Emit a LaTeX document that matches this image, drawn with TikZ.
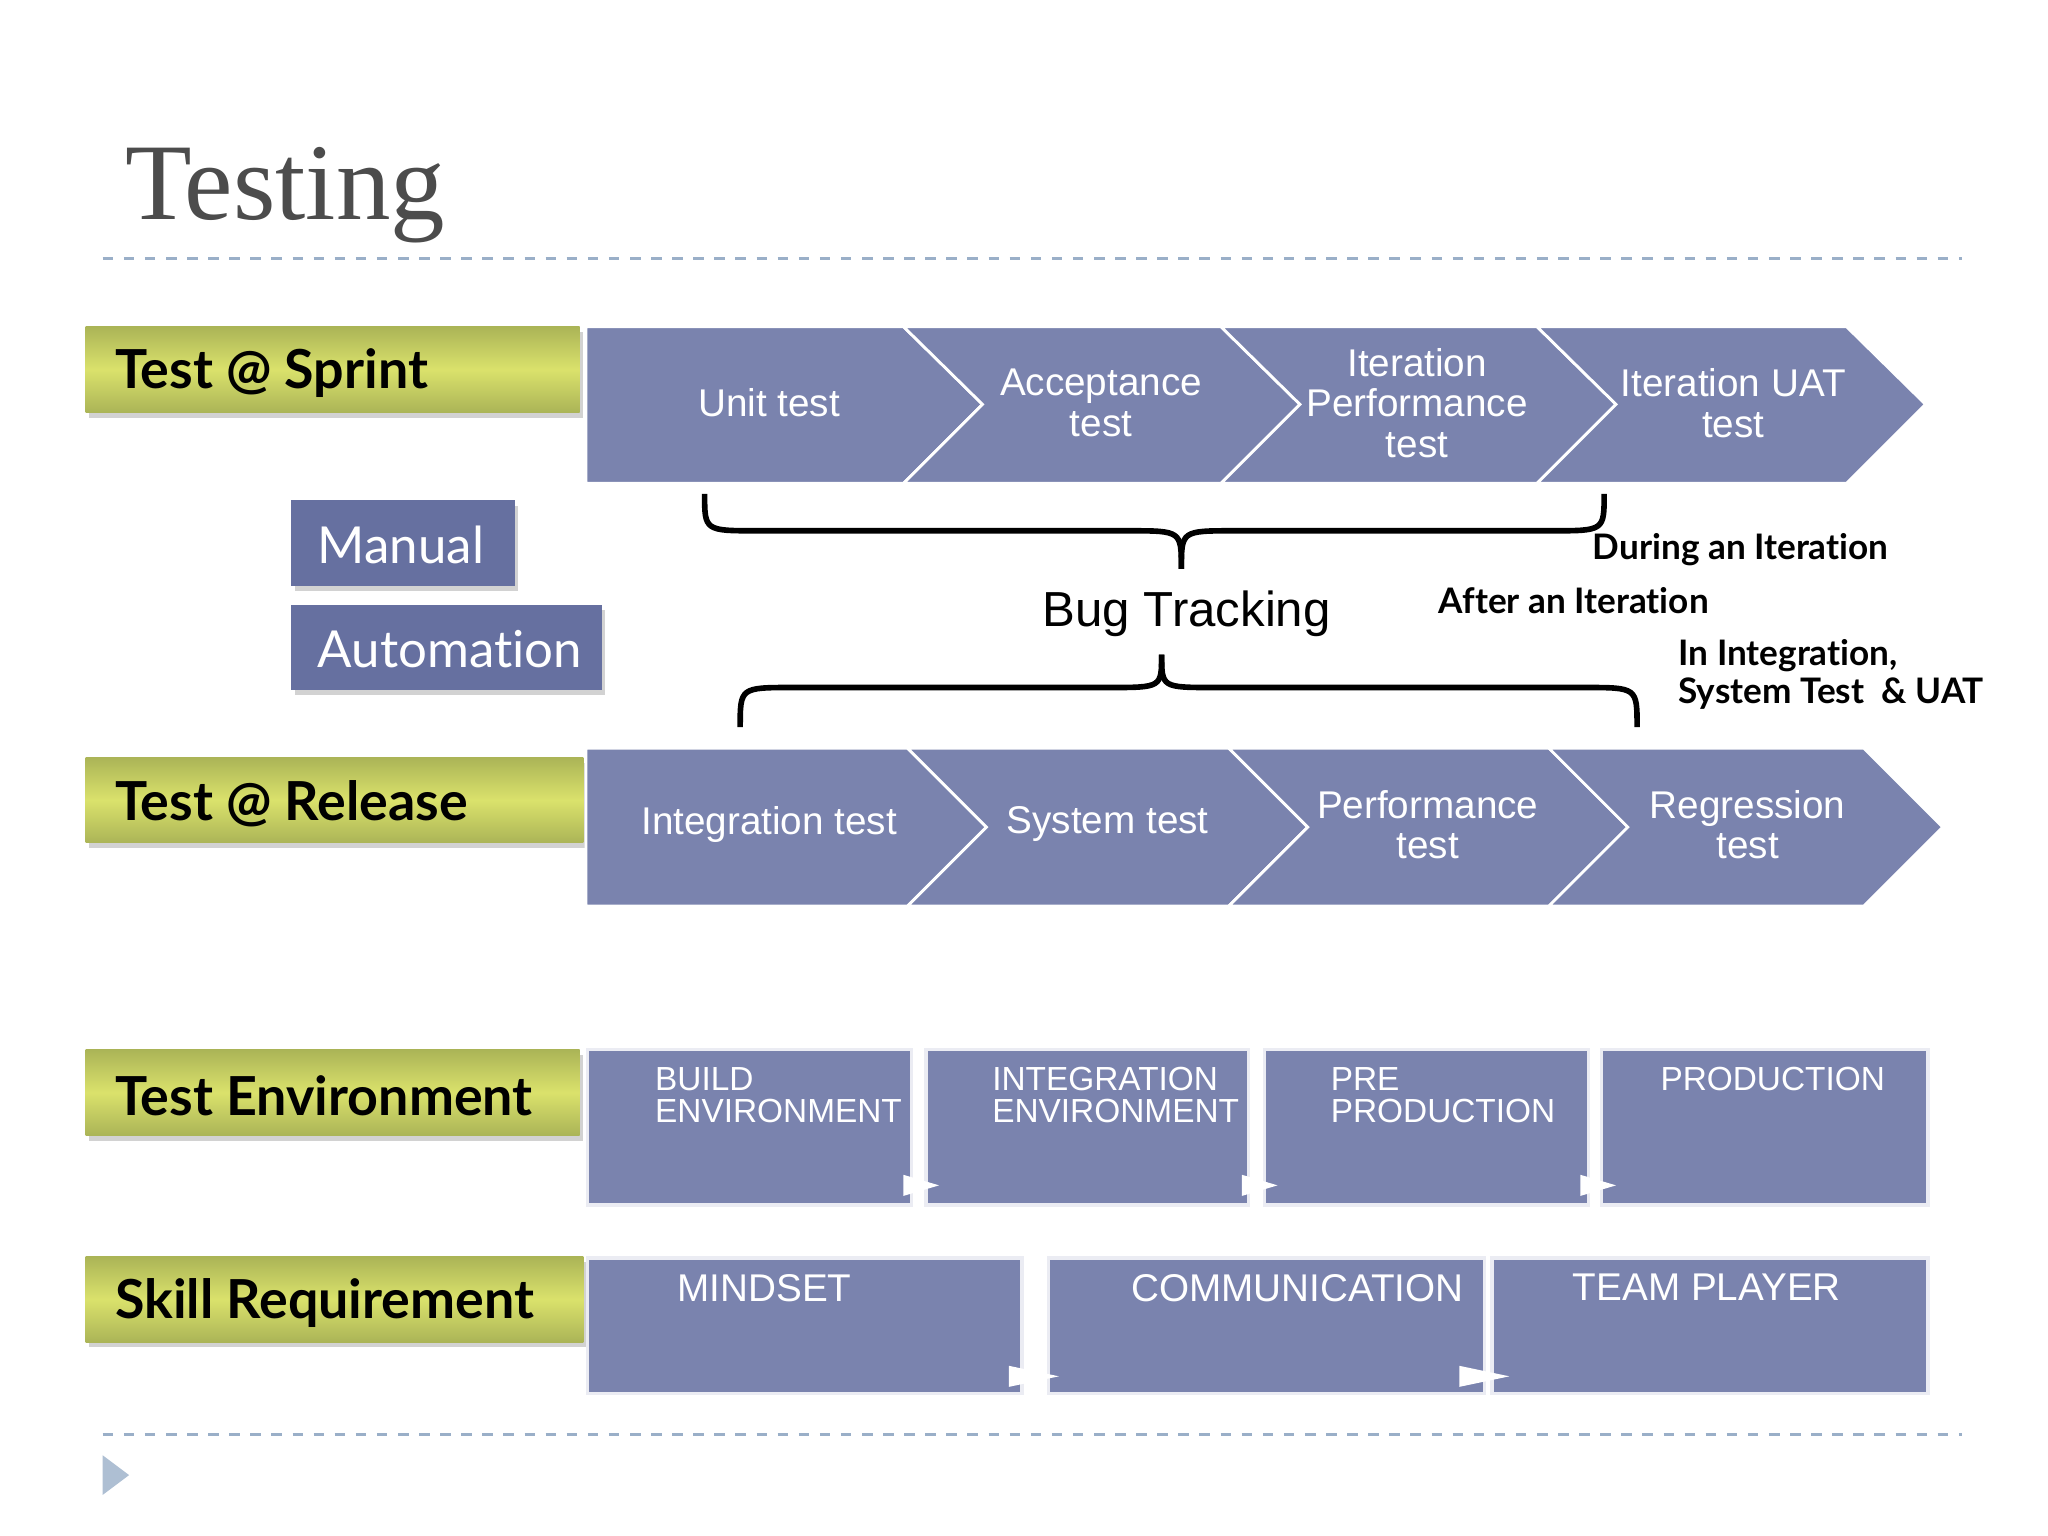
\documentclass[tikz,border=0pt]{standalone}
\usepackage{fontspec}
\setmainfont{Liberation Sans}
\newfontfamily\lato[Ligatures={NoCommon,NoDiscretionary,NoRare}]{Lato}
\newfontfamily\serifm{Liberation Serif}
\usetikzlibrary{shadows}
\definecolor{chev}{HTML}{7A83AE}
\definecolor{lab}{HTML}{C9D466}
\definecolor{blu}{HTML}{6670A0}
\definecolor{dashc}{HTML}{9AAFC8}
\tikzset{
  x=0.01317cm,y=-0.01317cm,
  green/.style={draw=none,top color=lab!85!black,bottom color=lab!85!black,middle color=lab!80!yellow!85!white,drop shadow={shadow xshift=1pt,shadow yshift=-1.5pt,opacity=0.35}},
  gtext/.style={font=\lato\bfseries\fontsize{15.3}{16}\selectfont,anchor=west},
  chv/.style={fill=chev,draw=white,line width=0.8pt},
  ctext/.style={text=white,font=\fontsize{11}{11.5}\selectfont,align=center},
  box/.style={fill=chev,draw=white!85!chev,line width=1pt},
  btext/.style={text=white,font=\fontsize{9.5}{9}\selectfont,align=left,anchor=north west},
  wtri/.style={fill=white},
  brace/.style={line width=1.6pt},
  note/.style={font=\lato\bfseries\fontsize{10}{11}\selectfont,anchor=west,align=left}
}
\begin{document}
\begin{tikzpicture}
\useasboundingbox[fill=white] (0,0) rectangle (1555,1166);
\node[anchor=west,text=black!70,font=\serifm\fontsize{31}{31}\selectfont] (title) at (86,148) {Testing};
\draw[dashc,dashed,line width=0.8pt] (78,196) -- (1490,196);
\draw[dashc,dashed,line width=0.8pt] (78,1089) -- (1490,1089);
\fill[dashc!80!white] (78,1105) -- (98,1120) -- (78,1135) -- cycle;
% green labels
\path[green] (65,248) rectangle (440,313);
\node[gtext] (l1) at (78,283) {Test @ Sprint};
\path[green] (65,575) rectangle (443,640);
\node[gtext] (l2) at (78,610) {Test @ Release};
\path[green] (65,797) rectangle (440,862);
\node[gtext] (l3) at (78,832) {Test Environment};
\path[green] (65,954) rectangle (443,1019);
\node[gtext] (l4) at (78,989) {Skill Requirement};
% manual / automation
\path[fill=blu,drop shadow={shadow xshift=1pt,shadow yshift=-1.5pt,opacity=0.35}] (221,380) rectangle (391,445);
\node[anchor=west,text=white,font=\lato\fontsize{14.5}{15}\selectfont] (man) at (232,414) {Manual};
\path[fill=blu,drop shadow={shadow xshift=1pt,shadow yshift=-1.5pt,opacity=0.35}] (221,459) rectangle (457,524);
\node[anchor=west,text=white,font=\lato\fontsize{14.5}{15}\selectfont] (aut) at (232,493) {Automation};
% row 1 chevrons
\draw[chv] (445,248) -- (686,248) -- (746,307) -- (686,367) -- (445,367) -- cycle;
\draw[chv] (686,248) -- (927,248) -- (987,307) -- (927,367) -- (686,367) -- (746,307) -- cycle;
\draw[chv] (927,248) -- (1167,248) -- (1227,307) -- (1167,367) -- (927,367) -- (987,307) -- cycle;
\draw[chv] (1167,248) -- (1402,248) -- (1462,307) -- (1402,367) -- (1167,367) -- (1227,307) -- cycle;
\node[ctext] (c1) at (584,306) {Unit test};
\node[ctext] (c2) at (836,306) {Acceptance\\test};
\node[ctext] (c3) at (1076,306) {Iteration\\Performance\\test};
\node[ctext] (c4) at (1316,306) {Iteration UAT\\test};
% row 2 chevrons
\draw[chv] (445,568) -- (689,568) -- (749,628) -- (689,688) -- (445,688) -- cycle;
\draw[chv] (689,568) -- (933,568) -- (993,628) -- (933,688) -- (689,688) -- (749,628) -- cycle;
\draw[chv] (933,568) -- (1176,568) -- (1236,628) -- (1176,688) -- (933,688) -- (993,628) -- cycle;
\draw[chv] (1176,568) -- (1415,568) -- (1475,628) -- (1415,688) -- (1176,688) -- (1236,628) -- cycle;
\node[ctext] (r1) at (584,626) {Integration test};
\node[ctext] (r2) at (841,626) {System test};
\node[ctext] (r3) at (1084,626) {Performance\\test};
\node[ctext] (r4) at (1327,626) {Regression\\test};
% braces
\draw[brace] (535,375) .. controls (535,403) .. (575,403) -- (857,403) .. controls (897,403) .. (897,432);
\draw[brace] (897,432) .. controls (897,403) .. (937,403) -- (1178,403) .. controls (1218,403) .. (1218,375);
\draw[brace] (562,552) .. controls (562,522) .. (602,522) -- (842,522) .. controls (882,522) .. (882,497);
\draw[brace] (882,497) .. controls (882,522) .. (922,522) -- (1203,522) .. controls (1243,522) .. (1243,552);
\node[font=\fontsize{14}{14}\selectfont] (bug) at (901,466) {Bug Tracking};
\node[note] (n1) at (1200,417) {During an Iteration};
\node[note] (n2) at (1083,456) {After an Iteration};
\node[note] (n3) at (1265,512) {In Integration,\\System Test \ \& UAT};
% environment boxes
\draw[box] (446,797) rectangle (692,915);
\draw[box] (703,797) rectangle (948,915);
\draw[box] (960,797) rectangle (1206,915);
\draw[box] (1216,797) rectangle (1464,915);
\node[btext] (e1) at (488,801) {BUILD\\ENVIRONMENT};
\node[btext] (e2) at (744,801) {INTEGRATION\\ENVIRONMENT};
\node[btext] (e3) at (1001,801) {PRE\\PRODUCTION};
\node[btext,anchor=north] (e4) at (1346,801) {PRODUCTION};
\fill[wtri] (686,892) -- (713,900) -- (686,908) -- cycle;
\fill[wtri] (943,892) -- (970,900) -- (943,908) -- cycle;
\fill[wtri] (1200,892) -- (1227,900) -- (1200,908) -- cycle;
% skill boxes
\draw[box] (446,955) rectangle (776,1058);
\draw[box] (796,955) rectangle (1127,1058);
\draw[box] (1133,955) rectangle (1464,1058);
\node[btext,font=\fontsize{11}{11}\selectfont] (s1) at (505,958) {MINDSET};
\node[btext,anchor=north,font=\fontsize{11}{11}\selectfont] (s2) at (985,958) {COMMUNICATION};
\node[btext,anchor=north,font=\fontsize{11}{11}\selectfont] (s3) at (1296,958) {TEAM PLAYER};
\fill[wtri] (766,1037) -- (804,1045) -- (766,1053) -- cycle;
\fill[wtri] (1108,1037) -- (1146,1045) -- (1108,1053) -- cycle;
\end{tikzpicture}
\end{document}
